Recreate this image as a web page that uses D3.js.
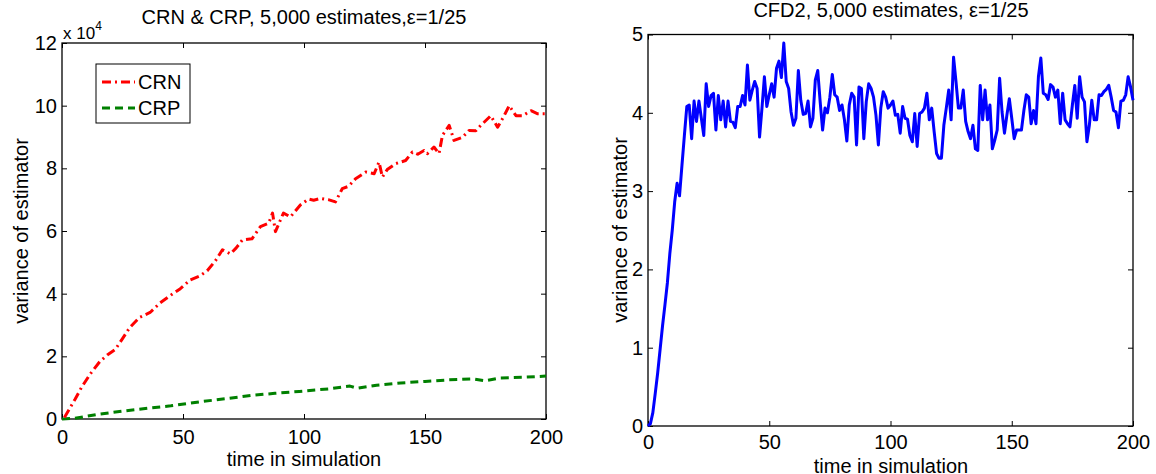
<!DOCTYPE html>
<html>
<head>
<meta charset="utf-8">
<script src="https://cdn.jsdelivr.net/npm/d3@7"></script>
<style>
  body { margin: 0; background: #fff; }
  svg text { font-family: "Liberation Sans", Arial, Helvetica, sans-serif; fill: #000; }
</style>
</head>
<body>
<svg id="chart" width="1156" height="474"></svg>
<script>
// ticks
var xTicks = [0, 50, 100, 150, 200];
var leftYTicks = [0, 2, 4, 6, 8, 10, 12];
var rightYTicks = [0, 1, 2, 3, 4, 5];

// CRN (units of 1e4)
var crnTime = [1, 5.4, 8, 11.6, 15.7, 19, 22, 24.8, 28, 32, 36.4, 40.6, 44.7, 48.9, 53, 57, 60, 63.4,
  66.3, 69.6, 72, 74.5, 78.5, 82, 85.4, 87, 88.2, 91.5, 94.4, 98.5, 101.9, 104, 106.8, 110, 113,
  115.8, 118.5, 121.3, 125.5, 129, 131, 132.4, 134.4, 137.9, 142, 144.8, 147, 149.6, 151, 153.7,
  155.8, 157.2, 160, 162, 165.5, 168.2, 171, 173, 174.4, 177.2, 180, 182.7, 184.8, 187.6, 190.4,
  193.8, 196.6, 200];
var crnValue = [0.05, 0.63, 1.0, 1.43, 1.84, 2.06, 2.22, 2.54, 2.92, 3.24, 3.40, 3.71, 3.94, 4.16, 4.44,
  4.57, 4.73, 5.05, 5.40, 5.27, 5.46, 5.71, 5.75, 6.14, 6.25, 6.57, 5.98, 6.57, 6.45, 6.83, 7.02,
  6.98, 7.04, 7.0, 6.93, 7.35, 7.43, 7.67, 7.88, 7.83, 8.20, 7.72, 7.96, 8.15, 8.25, 8.52, 8.45,
  8.57, 8.47, 8.68, 8.47, 9.05, 9.37, 8.89, 8.99, 9.21, 9.2, 9.37, 9.47, 9.68, 9.31, 9.68, 10.0,
  9.68, 9.68, 9.84, 9.74, 9.74];

// CRP (units of 1e4)
var crpTime = [0, 5, 15, 25, 36, 45, 57, 68, 78, 88, 98, 110, 119, 122, 130, 140, 150, 160, 170, 175, 181, 190, 200];
var crpValue = [0, 0.02, 0.15, 0.25, 0.35, 0.42, 0.55, 0.65, 0.75, 0.82, 0.88, 0.96, 1.05, 0.98, 1.08,
  1.15, 1.2, 1.25, 1.28, 1.22, 1.31, 1.33, 1.37];

// CFD2, one value per time step 0..200
var cfdValue = [0, 0.03, 0.17, 0.42, 0.68, 0.98, 1.28, 1.55, 1.83, 2.2, 2.5,
  2.86, 3.10, 2.94, 3.33, 3.71, 4.08, 4.10, 3.67, 4.15, 3.89, 4.15, 3.93, 3.71, 4.37, 4.08, 4.22,
  4.25, 3.78, 4.22, 3.91, 4.15, 3.82, 4.15, 3.89, 3.88, 3.81, 4.08, 4.08, 4.22, 4.10, 4.61, 4.16,
  4.29, 4.40, 4.31, 3.69, 4.06, 4.46, 4.08, 4.23, 4.37, 4.20, 4.57, 4.66, 4.45, 4.89, 4.40, 4.31,
  4.01, 3.84, 3.93, 4.54, 4.16, 3.98, 3.99, 4.15, 3.82,
  3.93, 4.42, 4.54, 4.14, 3.78, 4.06, 4.0, 4.2, 4.49, 4.23, 4.20, 4.03, 4.10, 3.91, 3.64, 4.10,
  4.25, 4.2, 3.59, 4.33, 4.31, 3.67, 4.14, 4.37, 4.31, 4.2, 3.97, 3.59, 4.06, 4.27, 4.2, 4.06,
  4.10, 4.15, 3.97, 3.98, 3.74, 4.08, 3.93, 3.92, 3.71, 3.63, 3.99, 3.57, 3.99, 4.01, 4.06, 4.25,
  3.91, 4.06, 3.76, 3.48, 3.42, 3.42, 3.84, 4.06, 4.29, 3.91, 4.71, 4.40, 4.06, 4.06, 4.29,
  3.89, 3.76, 3.67, 3.84, 3.54, 3.52, 4.35, 3.91, 4.29, 3.91, 4.10, 3.54, 3.65, 3.78, 4.44, 4.01,
  3.74, 3.97, 4.18, 3.93, 3.67, 3.78, 3.78, 3.78, 4.03, 4.23, 4.2, 3.86, 4.03, 3.86, 4.46, 4.70,
  4.25, 4.23, 4.17, 4.36, 4.33, 4.2, 4.29, 3.86, 4.25, 3.91, 3.86, 3.82, 4.10, 4.35, 3.93, 4.46,
  4.20, 4.14, 3.63, 3.84, 4.16, 3.91, 3.91, 4.23, 4.22, 4.27, 4.30, 4.35, 4.2, 4.03, 4.01, 3.81,
  4.15, 4.16, 4.23, 4.46, 4.33, 4.16];

var FONT = '"Liberation Sans", Arial, Helvetica, sans-serif';
var svg = d3.select('#chart');

var draw_panel = function(box, yDomain, yTicks, xPad) {
	var x = d3.scaleLinear().domain([0, 200]).range([box.left, box.right]);
	var y = d3.scaleLinear().domain(yDomain).range([box.bottom, box.top]);
	var g = svg.append('g');
	var fmt = d3.format('d');

	var axes = [
	    [d3.axisBottom(x).tickValues(xTicks).tickFormat(fmt).tickPadding(xPad), 'translate(0,' + box.bottom + ')'],
	    [d3.axisTop(x).tickValues(xTicks).tickFormat(''), 'translate(0,' + box.top + ')'],
	    [d3.axisLeft(y).tickValues(yTicks).tickFormat(fmt).tickPadding(5), 'translate(' + box.left + ',0)'],
	    [d3.axisRight(y).tickValues(yTicks).tickFormat(''), 'translate(' + box.right + ',0)']
	];
	axes.forEach(function(a) {
	    g.append('g')
	        .attr('transform', a[1])
	        .call(a[0].tickSizeInner(-5).tickSizeOuter(0))
	        .attr('font-size', 20)
	        .attr('font-family', FONT);
	});
	g.selectAll('.domain').remove();
	g.selectAll('.tick line').attr('stroke', '#000').attr('stroke-width', 1);

	g.append('rect')
	    .attr('x', box.left)
	    .attr('y', box.top)
	    .attr('width', box.right - box.left)
	    .attr('height', box.bottom - box.top)
	    .attr('fill', 'none')
	    .attr('stroke', '#000')
	    .attr('stroke-width', 1.3);

	return {x: x, y: y, g: g};
};

var add_line = function(p, xs, ys, color, dash) {
	var line = d3.line()
	    .x(function(d) { return p.x(d[0]); })
	    .y(function(d) { return p.y(d[1]); });
	p.g.append('path')
	    .datum(d3.zip(xs, ys))
	    .attr('d', line)
	    .attr('fill', 'none')
	    .attr('stroke', color)
	    .attr('stroke-width', 3)
	    .attr('stroke-linejoin', 'round')
	    .attr('stroke-dasharray', dash);
};

var add_text = function(txt, x, y, size, rotate) {
	var t = svg.append('text')
	    .attr('x', x)
	    .attr('y', y)
	    .attr('font-size', size)
	    .attr('text-anchor', 'middle')
	    .text(txt);
	if (rotate) t.attr('transform', 'rotate(-90,' + x + ',' + y + ')');
	return t;
};

// left panel
var left = draw_panel({left: 62, right: 546, top: 43, bottom: 419}, [0, 12], leftYTicks, 11);
add_line(left, crpTime, crpValue, '#008000', '8,5');
add_line(left, crnTime, crnValue, '#ff0000', '9,4,2,4');

add_text('CRN & CRP, 5,000 estimates,\u03b5=1/25', 304, 24, 20);
add_text('time in simulation', 304, 466, 20);
add_text('variance of estimator', 28, 231, 20, true);

var expo = svg.append('text').attr('x', 63).attr('y', 39).attr('font-size', 17);
expo.append('tspan').text('x 10');
expo.append('tspan').attr('dy', -9).attr('font-size', 12).text('4');

// legend
var legend = svg.append('g');
legend.append('rect')
    .attr('x', 96).attr('y', 64).attr('width', 94).attr('height', 59)
    .attr('fill', '#fff').attr('stroke', '#000').attr('stroke-width', 1);
var legendItems = [['CRN', '#ff0000', '9,4,2,4'], ['CRP', '#008000', '8,5']];
legendItems.forEach(function(d, i) {
	var ly = 82 + i * 26;
	legend.append('line')
	    .attr('x1', 102).attr('x2', 135).attr('y1', ly).attr('y2', ly)
	    .attr('stroke', d[1]).attr('stroke-width', 3).attr('stroke-dasharray', d[2]);
	legend.append('text')
	    .attr('x', 138).attr('y', ly + 7).attr('font-size', 20).text(d[0]);
});

// right panel
var right = draw_panel({left: 648, right: 1133, top: 34.5, bottom: 426}, [0, 5], rightYTicks, 9);
add_line(right, d3.range(cfdValue.length), cfdValue, '#0000ff', null);

add_text('CFD2, 5,000 estimates, \u03b5=1/25', 891, 17, 20);
add_text('time in simulation', 891, 473, 20);
add_text('variance of estimator', 627, 230, 20, true);
</script>
</body>
</html>
